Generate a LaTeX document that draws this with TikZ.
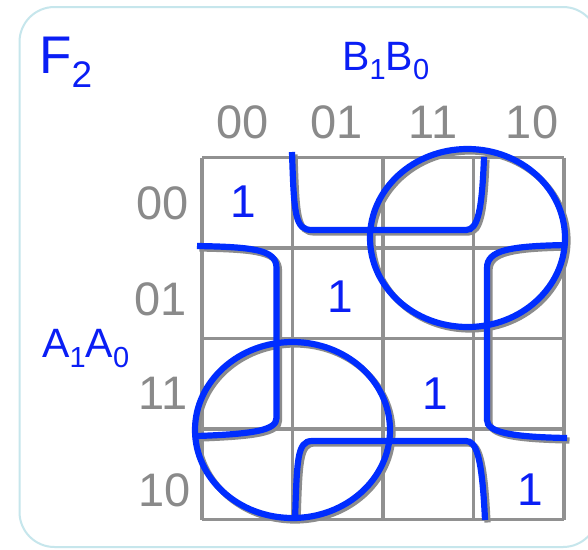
\documentclass[tikz,border=0pt]{standalone}
\usepackage{fontspec}
\setmainfont{Liberation Sans}
\definecolor{kblue}{RGB}{0,45,255}
\definecolor{tblue}{RGB}{10,30,245}
\definecolor{kgray}{RGB}{138,138,138}
\definecolor{gridgray}{RGB}{145,145,145}
\definecolor{shad}{RGB}{140,140,140}
\definecolor{frame}{RGB}{198,230,236}
\tikzset{
  gtxt/.style={inner sep=0pt, text=kgray, font=\fontsize{47}{47}\selectfont},
  onetxt/.style={inner sep=0pt, text=tblue, font=\fontsize{46}{46}\selectfont},
  lbl/.style={inner sep=0pt, text=tblue, anchor=base west},
  gridline/.style={draw=gridgray, line width=3.3pt},
  shadowline/.style={draw=shad, line width=6.2pt, shift={(2.5,2.5)}},
  blueline/.style={draw=kblue, line width=6.2pt},
}
\newcommand{\subs}[2]{\raisebox{-#1pt}{#2}}
\begin{document}
\begin{tikzpicture}[x=1pt,y=-1pt]
\useasboundingbox (0,0) rectangle (588,549);
\clip (0,0) rectangle (588,549);
\fill[white] (0,0) rectangle (588,549);
% frame
\draw[frame, line width=2pt, rounded corners=35pt] (19.5,7) rectangle (598,547);
% grid
\foreach \i in {0,...,4} {
  \draw[gridline] (202+90.5*\i,157.5) -- (202+90.5*\i,519.5);
  \draw[gridline] (202,157.5+90.5*\i) -- (564,157.5+90.5*\i);
}
% labels
\node[lbl] (F) at (39,73) {\fontsize{53}{53}\selectfont F\subs{14}{\fontsize{37}{37}\selectfont 2}};
\node[lbl] (B) at (342,70) {\fontsize{41}{41}\selectfont B\subs{9}{\fontsize{29}{29}\selectfont 1}B\subs{9}{\fontsize{29}{29}\selectfont 0}};
\node[lbl] (A) at (42,357) {\fontsize{41}{41}\selectfont A\subs{10}{\fontsize{29}{29}\selectfont 1}A\subs{10}{\fontsize{29}{29}\selectfont 0}};
% column headers
\node[gtxt] (c00) at (243,122) {00};
\node[gtxt] (c01) at (337,122) {01};
\node[gtxt] (c11) at (433,122) {11};
\node[gtxt] (c10) at (532,122) {10};
% row headers
\node[gtxt] (r00) at (163,203) {00};
\node[gtxt] (r01) at (161,299) {01};
\node[gtxt] (r11) at (163,393) {11};
\node[gtxt] (r10) at (165,490) {10};
% ones
\node[onetxt] (o1) at (243,202) {1};
\node[onetxt] (o2) at (340,297) {1};
\node[onetxt] (o3) at (435,394) {1};
\node[onetxt] (o4) at (530,490) {1};
% groups
\foreach \sty in {shadowline,blueline} {
  % top U
  \draw[\sty] (292,152) .. controls (294,215) and (295,230) .. (312,230) -- (466,230) .. controls (478,230) and (482,210) .. (484,157);
  % bottom inverted U
  \draw[\sty] (295,520) .. controls (297,460) and (297,441) .. (312,441) -- (466,441) .. controls (476,441) and (482,455) .. (485,520);
  % left bracket
  \draw[\sty] (197,246) .. controls (255,247) and (276.5,250) .. (276.5,268) -- (276.5,418) .. controls (276.5,430) and (255,434) .. (197,436);
  % right bracket
  \draw[\sty] (567,245) .. controls (510,246) and (487,250) .. (487,268) -- (487,420) .. controls (487,432) and (510,437) .. (567,438);
  % circles
  \draw[\sty] (467.5,238) ellipse [x radius=97.5, y radius=89];
  \draw[\sty] (292.5,430) ellipse [x radius=97.5, y radius=88];
}
\end{tikzpicture}
\end{document}
